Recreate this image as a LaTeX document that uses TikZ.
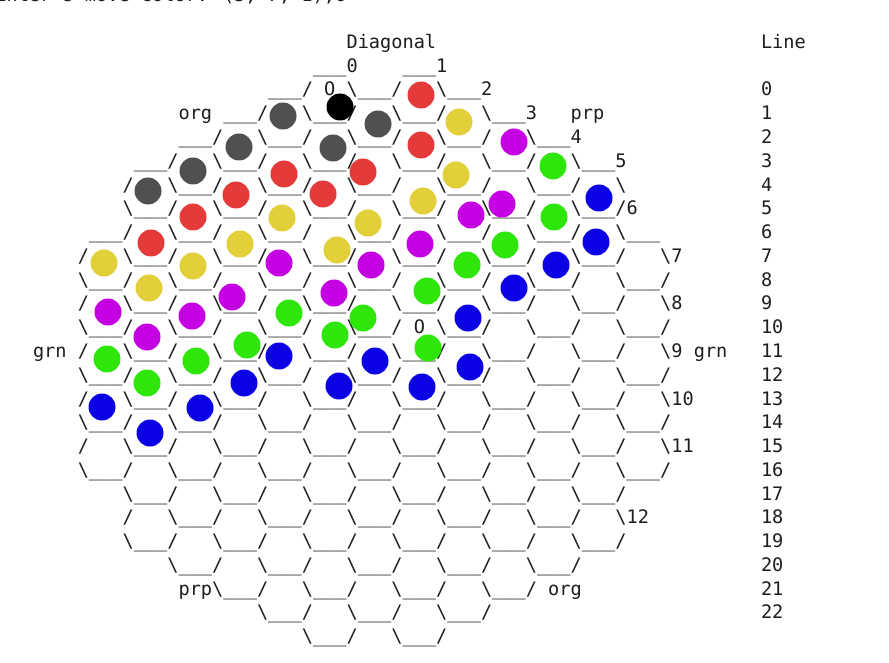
\documentclass[tikz,border=0pt]{standalone}
\usepackage{fontspec}
\newfontfamily\asciifont{DejaVu Sans Mono}
\definecolor{txt}{HTML}{1E1E1E}
\definecolor{pgray}{HTML}{505050}
\definecolor{pred}{HTML}{E53A3A}
\definecolor{pyel}{HTML}{E3CF3A}
\definecolor{ppur}{HTML}{C400E2}
\definecolor{pgrn}{HTML}{2EE60A}
\definecolor{pblu}{HTML}{0C00E4}
\newcommand{\glyphat}[3]{\node[glyph] at ({33+11.2*(#1)},{96+23.77*(#2)}) {#3};}
\newcommand{\pieceat}[3]{\fill[#1] (#2,#3) circle[radius=13.5];}
\begin{document}
\begin{tikzpicture}[x=1pt,y=-1pt,
  glyph/.style={anchor=base west,inner sep=0pt,outer sep=0pt,text=txt,
    font=\asciifont\fontsize{18.6}{18.6}\selectfont}]
\useasboundingbox (0,0) rectangle (889,663);
\fill[white] (0,0) rectangle (889,663);
% clipped top line
\node[glyph] (top) at (-4.6,2) {Enter's move color: (5, 7, 1),6};
% hex grid: column / top row / bottom row / next column's top / next column's bottom
\foreach \k/\T/\B/\NT/\NB in {0/6/16/3/19,1/3/19/2/20,2/2/20/1/21,3/1/21/0/22,4/0/22/-1/23,5/-1/23/0/22,6/0/22/-1/23,7/-1/23/0/22,8/0/22/1/21,9/1/21/2/20,10/2/20/3/19,11/3/19/6/16,12/6/16/100/-100}{
  \pgfmathtruncatemacro\L{4+4*\k}
  \pgfmathtruncatemacro\Lr{\L+4}
  \pgfmathtruncatemacro\Lu{\L+1}
  \glyphat{\Lu}{\T}{\_\_\_}
  \pgfmathtruncatemacro\Ta{\T+1}
  \pgfmathtruncatemacro\Tb{\T+3}
  \pgfmathtruncatemacro\Bm{\B-1}
  \foreach \r in {\Ta,\Tb,...,\Bm}{
    \glyphat{\L}{\r}{/}
    \pgfmathtruncatemacro\shared{(\r>\NT)&&(\r<=\NB)}
    \ifnum\shared=0 \glyphat{\Lr}{\r}{\textbackslash}\fi
  }
  \pgfmathtruncatemacro\Tc{\T+2}
  \pgfmathtruncatemacro\Td{\T+4}
  \foreach \r in {\Tc,\Td,...,\B}{
    \glyphat{\L}{\r}{\textbackslash\_\_\_}
    \pgfmathtruncatemacro\shared{(\r>\NT)&&(\r<=\NB)}
    \ifnum\shared=0 \glyphat{\Lr}{\r}{/}\fi
  }
}
% labels
\glyphat{28}{-2}{Diagonal}
\glyphat{65}{-2}{Line}
\glyphat{28}{-1}{0}
\glyphat{36}{-1}{1}
\glyphat{26}{0}{O}
\glyphat{40}{0}{2}
\glyphat{13}{1}{org}
\glyphat{44}{1}{3}
\glyphat{48}{1}{prp}
\glyphat{48}{2}{4}
\glyphat{52}{3}{5}
\glyphat{53}{5}{6}
\glyphat{57}{7}{7}
\glyphat{57}{9}{8}
\glyphat{34}{10}{O}
\glyphat{0}{11}{grn}
\glyphat{57}{11}{9}
\glyphat{59}{11}{grn}
\glyphat{57}{13}{10}
\glyphat{57}{15}{11}
\glyphat{53}{18}{12}
\glyphat{13}{21}{prp}
\glyphat{46}{21}{org}
\foreach \n in {0,...,22}{\glyphat{65}{\n}{\n}}
% pieces
\pieceat{black}{340}{107}
\foreach \x/\y in {283/116,378/124,239/147,333/148,193/171,148/191}{\pieceat{pgray}{\x}{\y}}
\foreach \x/\y in {421/95,421/145,284/174,363/172,236/195,323/194,193/217,151/243}{\pieceat{pred}{\x}{\y}}
\foreach \x/\y in {459/122,456/175,423/201,282/218,368/223,240/244,337/250,104/263,193/266,149/288}{\pieceat{pyel}{\x}{\y}}
\foreach \x/\y in {514/142,471/215,502/204,420/244,279/263,371/265,232/297,334/293,108/312,192/316,147/337}{\pieceat{ppur}{\x}{\y}}
\foreach \x/\y in {553/166,554/217,505/245,467/265,427/291,289/313,363/318,335/335,247/345,428/348,107/359,196/361,147/383}{\pieceat{pgrn}{\x}{\y}}
\foreach \x/\y in {599/198,596/242,556/265,514/288,468/318,470/367,279/356,375/361,244/383,339/386,422/387,102/407,200/408,150/433}{\pieceat{pblu}{\x}{\y}}
\end{tikzpicture}
\end{document}
